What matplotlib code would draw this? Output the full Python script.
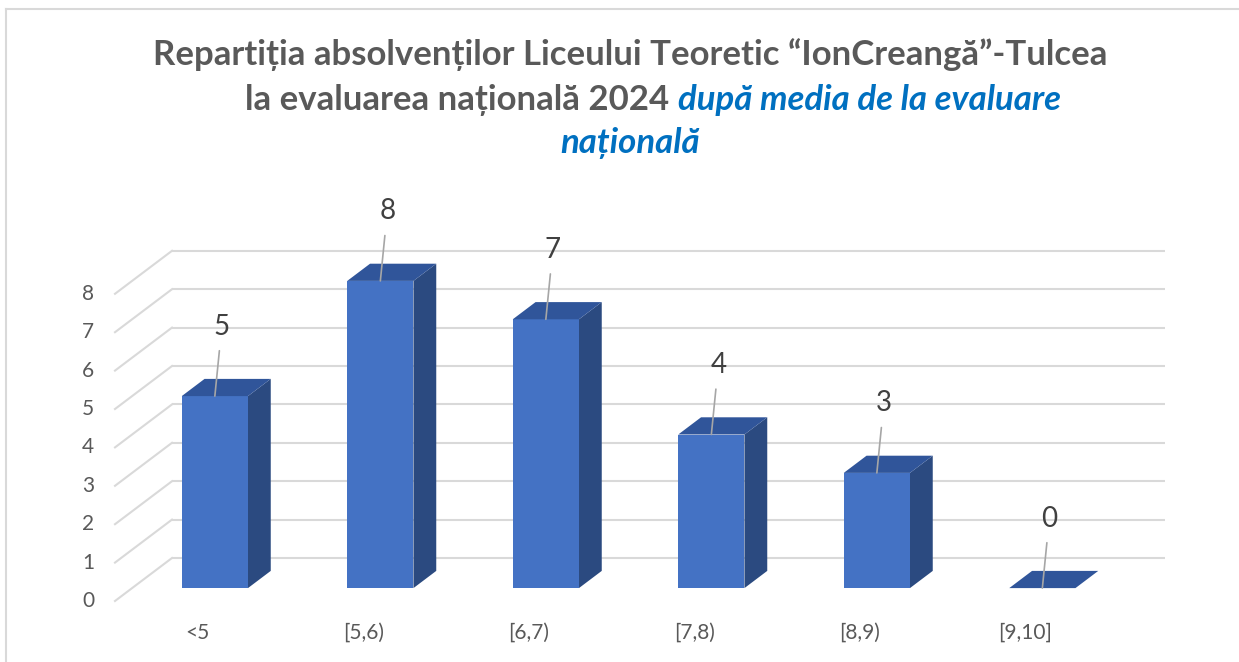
import matplotlib
matplotlib.use("Agg")
import matplotlib.pyplot as plt
from matplotlib.patches import Polygon
from matplotlib.lines import Line2D

# ---------------- data ----------------
categories = ["<5", "[5,6)", "[6,7)", "[7,8)", "[8,9)", "[9,10]"]
values = [5, 8, 7, 4, 3, 0]
y_ticks = [0, 1, 2, 3, 4, 5, 6, 7, 8]
title_line1 = "Repartiția absolvenților Liceului Teoretic “IonCreangă”-Tulcea"
title_line2_gray = "la evaluarea națională 2024 "
title_line2_blue = "după media de la evaluare"
title_line3_blue = "națională"

# ---------------- style ----------------
W, H, DPI = 1239, 662, 100
FONT = ["Lato", "DejaVu Sans"]
GRID = "#d9d9d9"
FRONT = "#4472c4"
SIDE = "#2b4a80"
TOP = "#30559a"
TXT = "#595959"
LBL = "#404040"
BLUE = "#0070c0"

# oblique projection parameters (in data units)
PX_PER_CAT = 165.5
PX_PER_VAL = 38.4
DXZ = -57 / PX_PER_CAT   # shift per unit depth (0 = back wall, 1 = front floor edge)
DYZ = -43 / PX_PER_VAL
BAR_W = 0.40
Z_FRONT, Z_BACK = 0.70, 0.30


def proj(x, v, z):
    return (x + DXZ * z, v + DYZ * z)


fig = plt.figure(figsize=(W / DPI, H / DPI), dpi=DPI)
ax = fig.add_axes([0, 0, 1, 1])
ax.set_xlim(-0.5 - 172 / PX_PER_CAT, -0.5 + (W - 172) / PX_PER_CAT)
ax.set_ylim((558 - H) / PX_PER_VAL, 558 / PX_PER_VAL)
ax.axis("off")

n = len(categories)
x_left, x_right = -0.5, n - 0.5

# back wall gridlines + side wall diagonals + y tick labels
for t in y_ticks:
    ax.plot([x_left, x_right], [t, t], color=GRID, lw=1.5, zorder=1,
            solid_capstyle="butt")
    p0 = proj(x_left, t, 0)
    p1 = proj(x_left, t, 1)
    ax.plot([p0[0], p1[0]], [p0[1], p1[1]], color=GRID, lw=1.5, zorder=1)
    ax.annotate(str(t), xy=p1, xytext=(-15, 0), textcoords="offset points",
                ha="right", va="center", fontsize=15, color=TXT, family=FONT)

# bars
for i, (cat, v) in enumerate(zip(categories, values)):
    xl, xr = i - BAR_W / 2, i + BAR_W / 2
    front = [proj(xl, 0, Z_FRONT), proj(xr, 0, Z_FRONT),
             proj(xr, v, Z_FRONT), proj(xl, v, Z_FRONT)]
    side = [proj(xr, 0, Z_FRONT), proj(xr, 0, Z_BACK),
            proj(xr, v, Z_BACK), proj(xr, v, Z_FRONT)]
    top = [proj(xl, v, Z_FRONT), proj(xr, v, Z_FRONT),
           proj(xr, v, Z_BACK), proj(xl, v, Z_BACK)]
    ax.add_patch(Polygon(side, closed=True, fc=SIDE, ec="none", zorder=3))
    ax.add_patch(Polygon(front, closed=True, fc=FRONT, ec="none", zorder=4))
    ax.add_patch(Polygon(top, closed=True, fc=TOP, ec="none", zorder=4))

    # data label with leader line
    anchor = proj(i, v, Z_FRONT)
    ax.annotate(str(v), xy=anchor, xytext=(5, 50), textcoords="offset points",
                ha="center", va="center", fontsize=20, color=LBL, family=FONT,
                zorder=6,
                arrowprops=dict(arrowstyle="-", color="#a6a6a6", lw=1.2,
                                shrinkA=6, shrinkB=0))

    # category label at the front floor edge
    ax.annotate(cat, xy=proj(i, 0, 1), xytext=(0, -23), textcoords="offset points",
                ha="center", va="center", fontsize=15, color=TXT, family=FONT)

# figure border (top and left)
fig.add_artist(Line2D([6 / W, 1], [1 - 8.5 / H, 1 - 8.5 / H],
                      transform=fig.transFigure, color=GRID, lw=1.5))
fig.add_artist(Line2D([6 / W, 6 / W], [0, 1 - 8.5 / H],
                      transform=fig.transFigure, color=GRID, lw=1.5))

# title
TS = 25
fig.text(630 / W, 1 - 55 / H, title_line1, ha="center", va="center",
         fontsize=TS, fontweight="bold", color=TXT, family=FONT)

renderer = fig.canvas.get_renderer()
t_gray = fig.text(0, 1 - 100 / H, title_line2_gray, ha="left", va="center",
                  fontsize=TS, fontweight="bold", color=TXT, family=FONT)
t_blue = fig.text(0, 1 - 100 / H, title_line2_blue, ha="left", va="center",
                  fontsize=TS, fontweight="bold", style="italic", color=BLUE,
                  family=FONT)
wg = t_gray.get_window_extent(renderer).width
wb = t_blue.get_window_extent(renderer).width
x0 = 653 - (wg + wb) / 2
t_gray.set_x(x0 / W)
t_blue.set_x((x0 + wg) / W)

fig.text(630 / W, 1 - 143 / H, title_line3_blue, ha="center", va="center",
         fontsize=TS, fontweight="bold", style="italic", color=BLUE, family=FONT)

fig.savefig("out.png", dpi=DPI)
